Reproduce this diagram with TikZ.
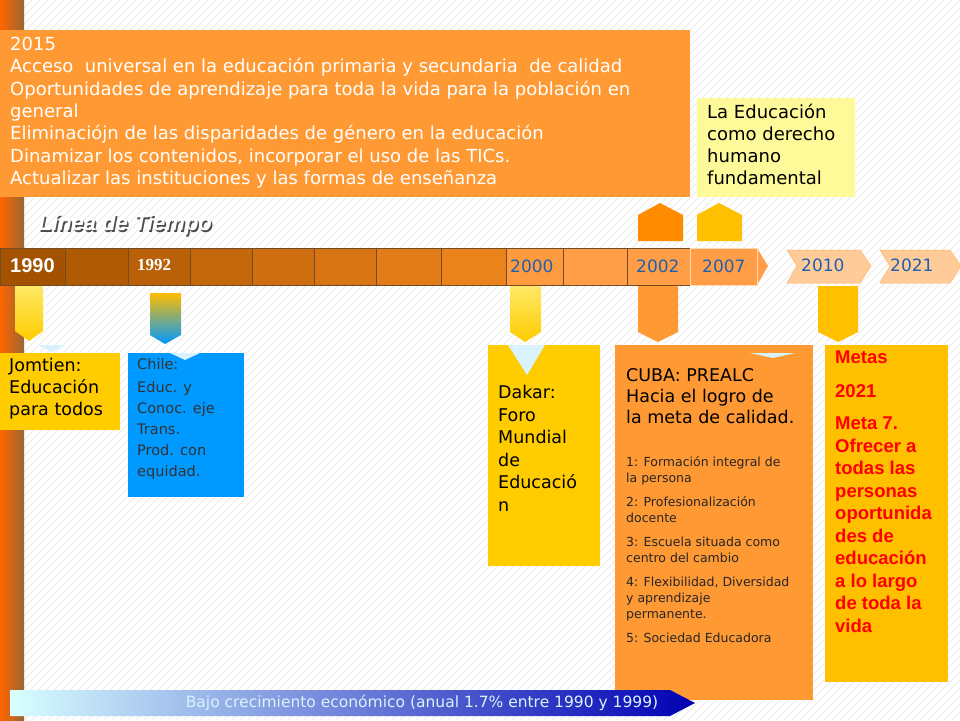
\documentclass[tikz,border=0pt]{standalone}
\usepackage{fontspec}
\setmainfont{DejaVu Sans}
\newfontfamily\arial{Liberation Sans}
\newfontfamily\tms{Liberation Serif}
\definecolor{orng}{RGB}{255,153,51}
\definecolor{ylw}{RGB}{255,204,0}
\definecolor{gold}{RGB}{255,192,0}
\definecolor{sky}{RGB}{0,153,255}
\definecolor{yrblue}{RGB}{31,95,176}
\definecolor{lt}{RGB}{255,158,70}
\begin{document}
\begin{tikzpicture}[x=1pt,y=-1pt,
  txt/.style={inner sep=0pt,anchor=north west,align=left},
  yr/.style={font=\fontsize{17}{17}\selectfont,text=yrblue,anchor=west,inner sep=0pt},
  tri/.style={fill=cyan!15}]
\useasboundingbox (0,0) rectangle (960,720);
\fill[white] (0,0) rectangle (960,720);
\begin{scope}
\clip (0,0) rectangle (960,720);
\foreach \i in {0,8,...,1700} \draw[gray!12,line width=1.2pt] (\i,0) -- ++(-720,720);
\end{scope}
\shade[left color=orange!80!red, right color=brown!80!black] (0,0) rectangle (24,720);
% top boxes
\fill[orng] (0,30) rectangle (690,197);
\node[txt,text=white,font=\fontsize{18}{22.3}\selectfont] (top) at (10,37) {2015\\Acceso\ \ universal en la educación primaria y secundaria\ \ de calidad\\Oportunidades de aprendizaje para toda la vida para la población en\\general\\Eliminacióјn de las disparidades de género en la educación\\Dinamizar los contenidos, incorporar el uso de las TICs.\\Actualizar las instituciones y las formas de enseñanza};
\fill[yellow!40] (697,98) rectangle (855,197);
\node[txt,font=\fontsize{18}{22}\selectfont] (der) at (707,104) {La Educación\\como derecho\\humano\\fundamental};
\node[txt,font=\arial\fontsize{22}{22}\selectfont\bfseries\itshape,text=white,
  preaction={}] (tit) at (40,216) {\pgfsetfillcolor{black!70}Línea de Tiempo};
\node[txt,font=\arial\fontsize{22}{22}\selectfont\bfseries\itshape,text=white] at (38.5,214.5) {Línea de Tiempo};
% timeline
\fill[lt] (0,248) -- (757,248) -- (768,266) -- (757,285) -- (0,285) -- cycle;
\foreach \a/\b/\k in {0/65/0,65/128/1,128/190/2,190/252/3,252/314/4,314/376/5,376/441/6,441/506/7,506/563/8}{
  \pgfmathsetmacro\rr{int(165+10*\k)}
  \pgfmathsetmacro\gg{int(82+7*\k)}
  \pgfmathsetmacro\bb{int(0+4*\k)}
  \definecolor{seg}{RGB}{\rr,\gg,\bb}
  \fill[seg,draw=brown!60!black,line width=0.6pt] (\a,248) rectangle (\b,285);
}
\fill[lt!90!orange,draw=brown!60!black,line width=0.6pt] (506,248) rectangle (563,285);
\fill[lt,draw=brown!60!black,line width=0.6pt] (563,248) rectangle (627,285);
\fill[lt,draw=brown!60!black,line width=0.6pt] (627,248) rectangle (690,285);
\fill[lt,draw=white!70!orange,line width=0.6pt] (690,248) rectangle (757,285);
\node[anchor=west,inner sep=0pt,text=white,font=\arial\fontsize{20}{20}\selectfont\bfseries] (y90) at (10,266) {1990};
\node[anchor=west,inner sep=0pt,text=white,font=\tms\fontsize{17}{17}\selectfont\bfseries] (y92) at (137,265) {1992};
\node[yr] (y00) at (510,266) {2000};
\node[yr] (y02) at (636,266) {2002};
\node[yr] (y07) at (702,266) {2007};
\fill[orange!40!white,draw=orange!60,line width=0.5pt] (787,250) -- (860,250) -- (871,266) -- (860,283) -- (787,283) -- (797,266) -- cycle;
\fill[orange!40!white,draw=orange!60,line width=0.5pt] (880,250) -- (950,250) -- (961,266) -- (950,283) -- (880,283) -- (890,266) -- cycle;
\node[yr] (y10) at (801,265) {2010};
\node[yr] (y21) at (890,265) {2021};
% up pentagons
\fill[orange!90!yellow] (638,241) -- (638,215) -- (660,203) -- (683,215) -- (683,241) -- cycle;
\fill[gold] (697,241) -- (697,215) -- (719,203) -- (742,215) -- (742,241) -- cycle;
% down pentagons
\shade[top color=yellow!70!orange!60, bottom color=ylw] (15,286) -- (43,286) -- (43,331) -- (29,341) -- (15,331) -- cycle;
\shade[top color=ylw!80!orange, bottom color=blue!40!cyan] (150,293) -- (181,293) -- (181,335) -- (165,344) -- (150,335) -- cycle;
\shade[top color=yellow!70!orange!60, bottom color=ylw] (510,286) -- (541,286) -- (541,332) -- (525,342) -- (510,332) -- cycle;
\fill[orng] (638,286) -- (678,286) -- (678,332) -- (658,342) -- (638,332) -- cycle;
\fill[gold] (818,286) -- (858,286) -- (858,332) -- (838,342) -- (818,332) -- cycle;
% boxes
\fill[tri] (38,345) -- (66,345) -- (52,352) -- cycle;
\fill[ylw] (0,353) rectangle (120,430);
\node[txt,font=\fontsize{17.5}{22}\selectfont] (jom) at (9,358) {Jomtien:\\Educación\\para todos};
\fill[sky] (128,353) rectangle (244,497);
\fill[cyan!15] (170,353) -- (200,353) -- (185,360) -- cycle;
\node[txt,font=\fontsize{14.5}{21}\selectfont,text=black!80] (chi) at (137,358) {Chile:\\[2pt]Educ. y\\Conoc. eje\\Trans.\\Prod. con\\equidad.};
\fill[ylw] (488,345) rectangle (600,566);
\fill[tri] (508,345) -- (545,345) -- (527,375) -- cycle;
\node[txt,font=\fontsize{17.5}{22.5}\selectfont] (dak) at (498,385) {Dakar:\\Foro\\Mundial\\de\\Educació\\n};
\fill[orng] (615,345) rectangle (813,700);
\fill[cyan!15] (750,353) -- (795,353) -- (773,358) -- cycle;
\node[txt,font=\fontsize{17.5}{21}\selectfont] (cuba) at (626,368) {CUBA: PREALC\\Hacia el logro de\\la meta de calidad.};
\node[txt,font=\fontsize{12.5}{16}\selectfont,text=black!85] (cuba2) at (626,456) {1: Formación integral de\\la persona\\[8pt]2: Profesionalización\\docente\\[8pt]3: Escuela situada como\\centro del cambio\\[8pt]4: Flexibilidad, Diversidad\\y aprendizaje\\permanente.\\[8pt]5: Sociedad Educadora};
\fill[gold] (825,345) rectangle (948,682);
\node[txt,font=\arial\fontsize{18.5}{22.5}\selectfont\bfseries,text=red] (met) at (835,351) {Metas\\[11pt]2021\\[10pt]Meta 7.\\Ofrecer a\\todas las\\personas\\oportunida\\des de\\educación\\a lo largo\\de toda la\\vida};
% bottom arrow
\shade[left color=cyan!15, right color=blue!70!black] (10,690) -- (670,690) -- (695,703) -- (670,716) -- (10,716) -- cycle;
\node[anchor=center,inner sep=0pt,text=white!85!cyan,font=\fontsize{15.5}{15.5}\selectfont] (bajo) at (422,703) {Bajo crecimiento económico (anual 1.7\% entre 1990 y 1999)};
\end{tikzpicture}
\end{document}
